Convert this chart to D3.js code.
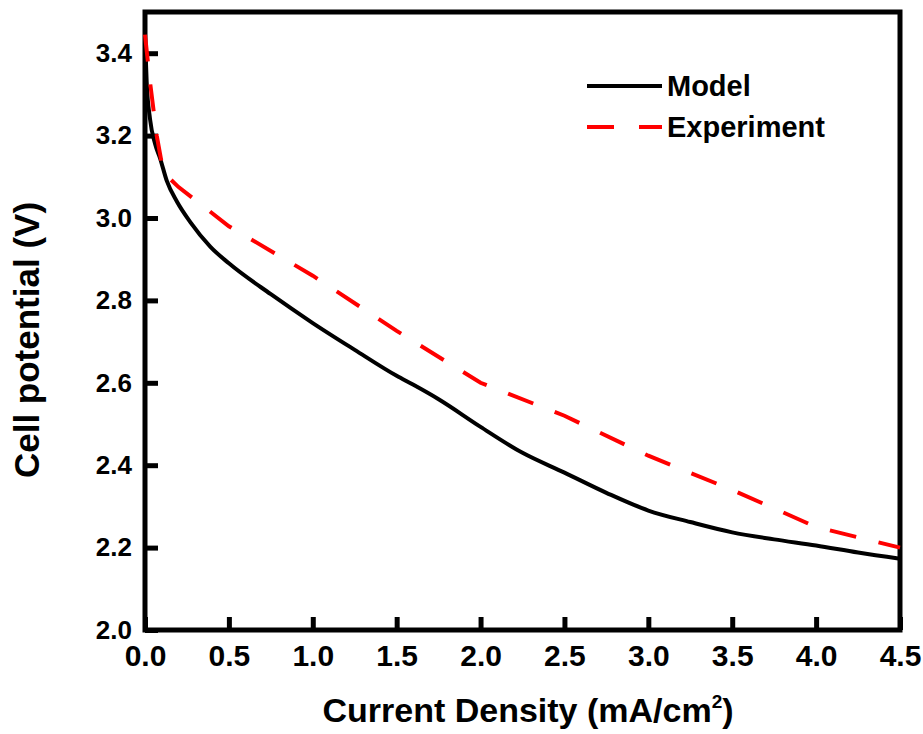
<!DOCTYPE html>
<html>
<head>
<meta charset="utf-8">
<script src="https://cdn.jsdelivr.net/npm/d3@7"></script>
<style>
  body { margin: 0; background: #fff; }
  svg { display: block; }
</style>
</head>
<body>
<div id="chart"></div>
<script>
// values
const modelX = [0, 0.01, 0.03, 0.06, 0.09, 0.13, 0.19, 0.27, 0.39, 0.5, 0.75, 1.0, 1.25, 1.5, 1.6, 1.75, 2.0, 2.25, 2.5, 2.75, 3.0, 3.25, 3.5, 3.75, 4.0, 4.25, 4.5];
const modelY = [3.44, 3.33, 3.24, 3.18, 3.145, 3.09, 3.04, 2.99, 2.93, 2.89, 2.815, 2.745, 2.68, 2.617, 2.595, 2.56, 2.493, 2.43, 2.382, 2.333, 2.29, 2.262, 2.237, 2.22, 2.205, 2.188, 2.173];

const expX = [0, 0.03, 0.07, 0.11, 0.2, 0.5, 1.0, 1.5, 2.0, 2.5, 3.0, 3.5, 4.0, 4.5];
const expY = [3.445, 3.33, 3.2, 3.11, 3.075, 2.98, 2.86, 2.726, 2.6, 2.52, 2.423, 2.34, 2.25, 2.2];

const xTicks = [0, 0.5, 1.0, 1.5, 2.0, 2.5, 3.0, 3.5, 4.0, 4.5];
const yTicks = [2.0, 2.2, 2.4, 2.6, 2.8, 3.0, 3.2, 3.4];
const seriesNames = ["Model", "Experiment"];

const width = 923, height = 734;
const margin = { top: 12, right: 23, bottom: 104, left: 145 };

const svg = d3.select("#chart").append("svg")
  .attr("width", width)
  .attr("height", height);

const x = d3.scaleLinear().domain([0, 4.5]).range([margin.left, width - margin.right]);
const y = d3.scaleLinear().domain([2.0, 3.5]).range([height - margin.bottom, margin.top]);

// axes, ticks pointing inward
const xAxis = svg.append("g")
  .attr("transform", "translate(0," + (height - margin.bottom) + ")")
  .call(d3.axisBottom(x).tickValues(xTicks).tickSize(-13).tickPadding(15).tickFormat(d3.format(".1f")));
xAxis.select(".domain").remove();
xAxis.selectAll(".tick line").attr("stroke", "#000").attr("stroke-width", 5);
xAxis.selectAll(".tick text")
  .attr("fill", "#000")
  .style("font-family", "'Liberation Sans Narrow', 'Arial Narrow', Arial, sans-serif")
  .style("font-size", "30px")
  .style("font-weight", "bold");

const yAxis = svg.append("g")
  .attr("transform", "translate(" + margin.left + ",0)")
  .call(d3.axisLeft(y).tickValues(yTicks).tickSize(-13).tickPadding(13).tickFormat(d3.format(".1f")));
yAxis.select(".domain").remove();
yAxis.selectAll(".tick line").attr("stroke", "#000").attr("stroke-width", 5);
yAxis.selectAll(".tick text")
  .attr("fill", "#000")
  .style("font-family", "'Liberation Sans', Arial, sans-serif")
  .style("font-size", "26px")
  .style("font-weight", "bold");

// frame
svg.append("rect")
  .attr("x", margin.left)
  .attr("y", margin.top)
  .attr("width", width - margin.left - margin.right)
  .attr("height", height - margin.top - margin.bottom)
  .attr("fill", "none")
  .attr("stroke", "#000")
  .attr("stroke-width", 5);

// lines
const line = d3.line()
  .x(d => x(d[0]))
  .y(d => y(d[1]));

svg.append("path")
  .datum(d3.zip(modelX, modelY))
  .attr("d", line.curve(d3.curveMonotoneX))
  .attr("fill", "none")
  .attr("stroke", "#000")
  .attr("stroke-width", 4);

svg.append("path")
  .datum(d3.zip(expX, expY))
  .attr("d", line.curve(d3.curveLinear))
  .attr("fill", "none")
  .attr("stroke", "#ff0000")
  .attr("stroke-width", 4)
  .attr("stroke-dasharray", "27,23");

// legend
const legend = svg.append("g").attr("transform", "translate(587,86)");
seriesNames.forEach(function (name, i) {
  const row = legend.append("g").attr("transform", "translate(0," + (i * 41) + ")");
  row.append("line")
    .attr("x1", 0).attr("x2", 75)
    .attr("y1", 0).attr("y2", 0)
    .attr("stroke", i == 0 ? "#000" : "#ff0000")
    .attr("stroke-width", 4)
    .attr("stroke-dasharray", i == 0 ? null : "27,25");
  row.append("text")
    .attr("x", 80)
    .attr("y", 10)
    .text(name)
    .style("font-family", "'Liberation Sans', Arial, sans-serif")
    .style("font-size", "29px")
    .style("font-weight", "bold");
});

// axis titles
const xTitle = svg.append("text")
  .attr("x", 528)
  .attr("y", 722)
  .attr("text-anchor", "middle")
  .style("font-family", "'Liberation Sans', Arial, sans-serif")
  .style("font-size", "34px")
  .style("font-weight", "bold");
xTitle.append("tspan").text("Current Density (mA/cm");
xTitle.append("tspan").text("2").attr("dy", -14).style("font-size", "19px");
xTitle.append("tspan").text(")").attr("dy", 14);

svg.append("text")
  .attr("transform", "translate(39,340) rotate(-90)")
  .attr("text-anchor", "middle")
  .style("font-family", "'Liberation Sans', Arial, sans-serif")
  .style("font-size", "35px")
  .style("font-weight", "bold")
  .text("Cell potential (V)");
</script>
</body>
</html>
